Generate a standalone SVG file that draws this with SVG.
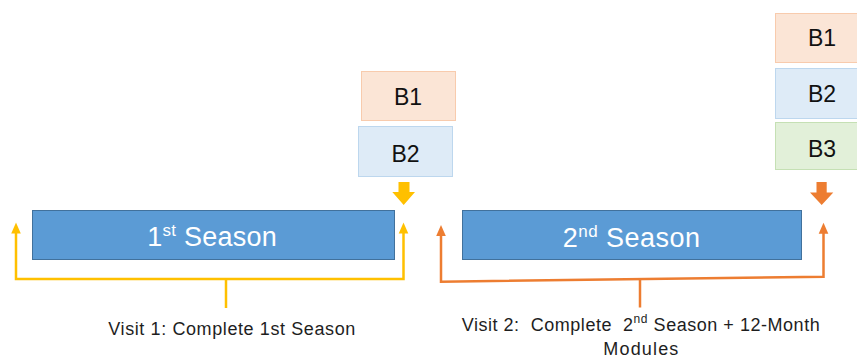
<svg xmlns="http://www.w3.org/2000/svg" width="857" height="358" viewBox="0 0 857 358">
<style>
  .season { fill: #5B9BD5; stroke: #41719C; stroke-width: 1; }
  .b1 { fill: #FBE5D6; stroke: #F8CBAD; stroke-width: 1; }
  .b2 { fill: #DEEBF7; stroke: #BDD7EE; stroke-width: 1; }
  .b3 { fill: #E2F0D9; stroke: #C5E0B4; stroke-width: 1; }
  .blabel { font-family: "Liberation Sans", Arial, sans-serif; font-size: 23px; fill: #111111; text-anchor: middle; }
  .stext { font-family: "Liberation Sans", Arial, sans-serif; font-size: 27px; fill: #ffffff; }
  .vtext { font-family: "Liberation Sans", Arial, sans-serif; font-size: 18px; fill: #1e1e1e; white-space: pre; }
  .yl { fill: none; stroke: #FFC000; stroke-width: 2.5; }
  .ol { fill: none; stroke: #ED7D31; stroke-width: 2.5; }
  .yf { fill: #FFC000; }
  .of { fill: #ED7D31; }
</style>
<rect width="857" height="358" fill="#ffffff"/>

<g id="season1">
  <rect class="season" x="32.5" y="210.5" width="362" height="49"/>
  <text class="stext" x="147.3" y="245.5" textLength="129.4">1<tspan font-size="17" dy="-10">st</tspan><tspan dy="10"> Season</tspan></text>
</g>
<g id="season2">
  <rect class="season" x="462.5" y="210.5" width="339" height="49"/>
  <text class="stext" x="562.7" y="246.5" textLength="137.3">2<tspan font-size="17" dy="-10">nd</tspan><tspan dy="10"> Season</tspan></text>
</g>

<g id="v1-b1">
  <rect class="b1" x="361.5" y="71.5" width="94" height="49"/>
  <text class="blabel" x="408" y="105">B1</text>
</g>
<g id="v1-b2">
  <rect class="b2" x="358.5" y="126.5" width="94" height="50"/>
  <text class="blabel" x="405.5" y="161.5">B2</text>
</g>
<g id="v2-b1">
  <rect class="b1" x="775.5" y="13.5" width="94" height="49"/>
  <text class="blabel" x="822" y="46">B1</text>
</g>
<g id="v2-b2">
  <rect class="b2" x="775.5" y="68.5" width="94" height="50"/>
  <text class="blabel" x="822" y="101.5">B2</text>
</g>
<g id="v2-b3">
  <rect class="b3" x="775.5" y="122.5" width="94" height="47"/>
  <text class="blabel" x="822" y="156.5">B3</text>
</g>

<g id="visit1-label">
  <text class="vtext" x="108.3" y="335" textLength="247">Visit 1: Complete 1st Season</text>
</g>
<g id="visit2-label">
  <text class="vtext" x="461.7" y="330.7" textLength="358">Visit 2:  Complete  2<tspan font-size="12" dy="-8">nd</tspan><tspan dy="8"> Season + 12-Month</tspan></text>
  <text class="vtext" x="603.3" y="355" textLength="75">Modules</text>
</g>

<g id="connectors">
  <polygon class="yf" points="398.5,182 409.5,182 409.5,192 415,192 403.7,205 392.3,192 398.5,192"/>
  <polygon class="of" points="816.5,182 826.7,182 826.7,192.5 833.3,192.5 821.7,205 810,192.5 816.5,192.5"/>

  <path class="yl" d="M16,232 V279 H403.5 V232"/>
  <path class="yl" d="M226,279 V308"/>
  <polygon class="yf" points="16,222.5 11.2,233.5 20.8,233.5"/>
  <polygon class="yf" points="403.5,222.5 398.7,233.5 408.3,233.5"/>

  <path class="ol" d="M441,235 V281.7 L823.5,276.7 V233"/>
  <path class="ol" d="M640,279.3 V307.5"/>
  <polygon class="of" points="441,225 436.2,236 445.8,236"/>
  <polygon class="of" points="823.5,222.7 818.7,233.7 828.3,233.7"/>
</g>
</svg>
